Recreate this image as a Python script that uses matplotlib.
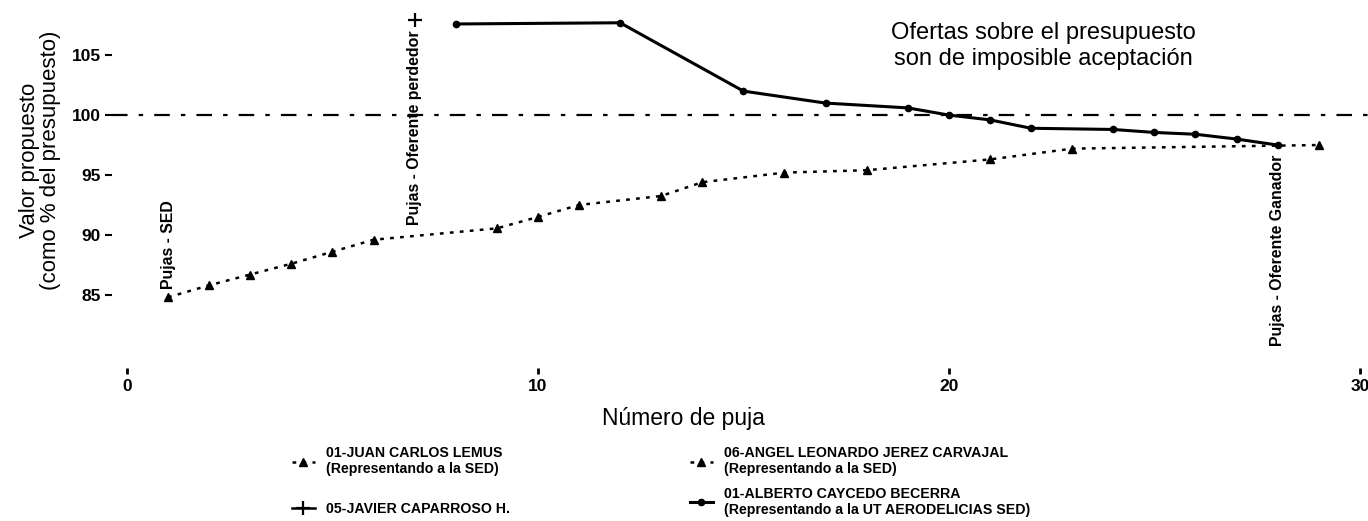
import matplotlib
matplotlib.use('Agg')
import matplotlib.pyplot as plt
from matplotlib import font_manager

# --- Data ---
SED_X = [1, 2, 3, 4, 5, 6, 9, 10, 11, 13, 14, 16, 18, 21, 23, 29]
SED_Y = [84.8, 85.8, 86.7, 87.6, 88.6, 89.6, 90.55, 91.5, 92.5, 93.25, 94.4, 95.2, 95.4, 96.3, 97.2, 97.5]

JAVIER_X = [7]
JAVIER_Y = [107.9]

ALBERTO_X = [8, 12, 15, 17, 19, 20, 21, 22, 24, 25, 26, 27, 28]
ALBERTO_Y = [107.6, 107.7, 102.0, 101.0, 100.6, 100.0, 99.6, 98.9, 98.8, 98.55, 98.4, 98.0, 97.5]

BUDGET = 100
Y_TICKS = [85, 90, 95, 100, 105]
X_TICKS = [0, 10, 20, 30]

LBL_JUAN = '01-JUAN CARLOS LEMUS\n(Representando a la SED)'
LBL_ANGEL = '06-ANGEL LEONARDO JEREZ CARVAJAL\n(Representando a la SED)'
LBL_JAVIER = '05-JAVIER CAPARROSO H.'
LBL_ALBERTO = '01-ALBERTO CAYCEDO BECERRA\n(Representando a la UT AERODELICIAS SED)'

# --- Fonts: use a narrow face if one is installed ---
installed = {f.name for f in font_manager.fontManager.ttflist}
if 'Liberation Sans Narrow' in installed:
    NARROW = ['Liberation Sans Narrow', 'Liberation Sans']
    LEG_SIZE, LAB_SIZE = 11.5, 12.8
else:
    NARROW = ['Liberation Sans', 'DejaVu Sans']
    LEG_SIZE, LAB_SIZE = 10.2, 11.4
plt.rcParams['font.family'] = ['Liberation Sans', 'DejaVu Sans']

W, H = 1368, 521
fig = plt.figure(figsize=(W / 100, H / 100), dpi=100)
fig.patch.set_facecolor('white')

# axes in pixel terms: left 112, right 1368, top 0, bottom 368
X0, X1, Y1 = 112, 1368, 368
ax = fig.add_axes([X0 / W, 1 - Y1 / H, (X1 - X0) / W, Y1 / H])
ax.set_xlim(-0.365, 30.2)
ax.set_ylim(78.9, 109.6)

for s in ax.spines.values():
    s.set_visible(False)

# reference line at 100 %
ax.axhline(BUDGET, color='black', lw=1.6, linestyle=(0, (7, 5, 2, 5)))

# SED bids
ax.plot(SED_X, SED_Y, color='black', lw=1.8, linestyle=(0, (1.5, 2.5)),
        marker='^', markersize=5.5, label=LBL_JUAN)
# second SED representative (legend only, line overlaps the first)
ax.plot([], [], color='black', lw=1.8, linestyle=(0, (1.5, 2.5)),
        marker='^', markersize=5.5, label=LBL_ANGEL)
ax.plot(JAVIER_X, JAVIER_Y, color='black', lw=1.8, linestyle='-',
        marker='+', markersize=10, markeredgewidth=1.6, label=LBL_JAVIER)
ax.plot(ALBERTO_X, ALBERTO_Y, color='black', lw=2.2, linestyle='-',
        marker='o', markersize=4.5, label=LBL_ALBERTO)

# point labels
lab_kw = dict(textcoords='offset points', rotation=90, ha='center',
              fontsize=LAB_SIZE, fontweight='bold', family=NARROW)
ax.annotate('Pujas - SED', (SED_X[0], SED_Y[0]), xytext=(0, 6),
            va='bottom', **lab_kw)
ax.annotate('Pujas - Oferente perdedor', (JAVIER_X[0], JAVIER_Y[0]),
            xytext=(0, -7), va='top', **lab_kw)
ax.annotate('Pujas - Oferente Ganador', (ALBERTO_X[-1], ALBERTO_Y[-1]),
            xytext=(0, -7), va='top', **lab_kw)

ax.text(22.3, 105.75, 'Ofertas sobre el presupuesto\nson de imposible aceptación',
        ha='center', va='center', fontsize=17, linespacing=1.2)

# ticks
ax.set_yticks(Y_TICKS)
ax.set_xticks(X_TICKS)
ax.tick_params(axis='y', direction='out', length=5, width=1.5, pad=3,
               labelsize=12.5)
ax.tick_params(axis='x', direction='out', length=4, width=2, pad=4,
               labelsize=12.5)
for t in ax.get_xticklabels() + ax.get_yticklabels():
    t.set_fontweight('bold')

fig.text(40 / W, 1 - 160 / H, 'Valor propuesto\n(como % del presupuesto)',
         rotation=90, ha='center', va='center', fontsize=16, linespacing=1.05)
fig.text(683 / W, 1 - 418 / H, 'Número de puja', ha='center', va='center',
         fontsize=16.5)

# legend, two independent columns
h, l = ax.get_legend_handles_labels()
leg_kw = dict(frameon=False, handlelength=1.6, handletextpad=0.8,
              borderaxespad=0, borderpad=0,
              prop={'family': NARROW, 'weight': 'bold', 'size': LEG_SIZE})
fig.legend([h[0], h[2]], [l[0], l[2]], loc='upper left',
           bbox_to_anchor=(292 / W, 1 - 446 / H), labelspacing=1.85, **leg_kw)
fig.legend([h[1], h[3]], [l[1], l[3]], loc='upper left',
           bbox_to_anchor=(690 / W, 1 - 446 / H), labelspacing=0.75, **leg_kw)

fig.savefig('out.png', dpi=100, facecolor='white')
